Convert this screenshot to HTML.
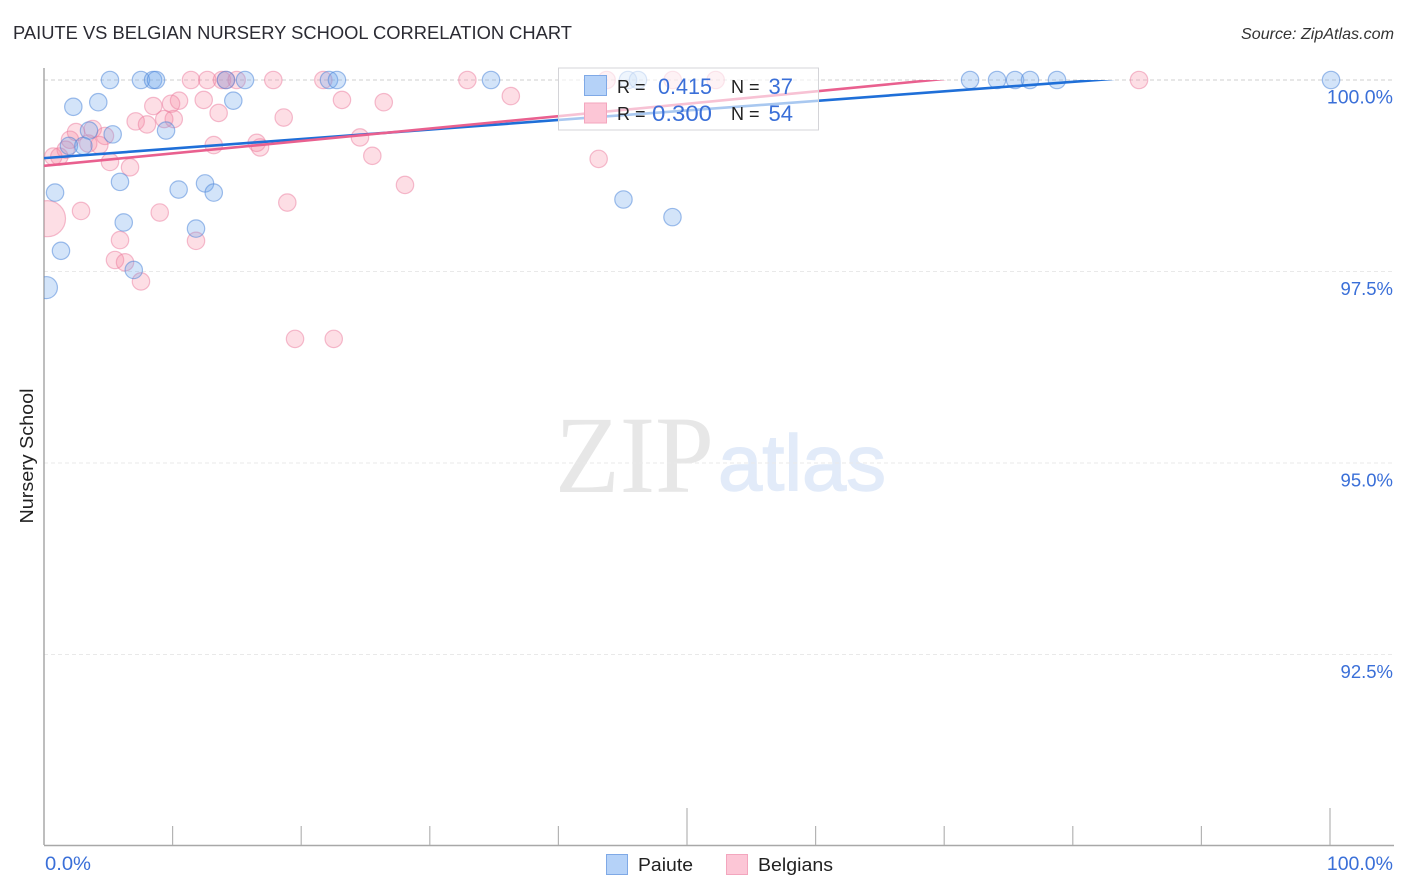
<!DOCTYPE html>
<html lang="en">
<head>
<meta charset="utf-8">
<title>Paiute vs Belgian Nursery School Correlation Chart</title>
<style>
html,body{margin:0;padding:0;background:#fff;width:1406px;height:892px;overflow:hidden}
svg{display:block;font-family:"Liberation Sans",sans-serif}
</style>
</head>
<body>
<svg id="chart" width="1406" height="892" viewBox="0 0 1406 892" xmlns="http://www.w3.org/2000/svg">
  <defs>
    <clipPath id="pts-clip"><rect x="44" y="60" width="1350" height="785"/></clipPath>
    <clipPath id="line-clip"><rect x="44" y="80" width="1350" height="765"/></clipPath>
  </defs>
  <rect x="0" y="0" width="1406" height="892" fill="#fff"/>
  <text x="13" y="39" font-size="18.5" fill="#2b2b33" textLength="559" lengthAdjust="spacingAndGlyphs">PAIUTE VS BELGIAN NURSERY SCHOOL CORRELATION CHART</text>
  <text x="1394" y="39" font-size="16" font-style="italic" fill="#333" text-anchor="end" textLength="153" lengthAdjust="spacingAndGlyphs">Source: ZipAtlas.com</text>

  <g>
    <text x="555" y="492" font-family="'Liberation Serif',serif" font-size="110" fill="#e7e7e7" textLength="159" lengthAdjust="spacingAndGlyphs">ZIP</text>
    <text x="718" y="490" font-size="79" fill="#e2ebf9" stroke="#e2ebf9" stroke-width="1.4" textLength="168" lengthAdjust="spacingAndGlyphs">atlas</text>
  </g>

  <g id="grid"></g>
  <g id="axes"></g>
  <g id="points" clip-path="url(#pts-clip)"></g>
  <g id="lines" clip-path="url(#line-clip)"></g>

  <g>
    <rect x="558.5" y="68" width="260" height="62" fill="#fff" fill-opacity="0.62" stroke="#d4d4d8" stroke-width="1"/>
    <rect x="584.5" y="75.5" width="22" height="20" fill="#b5d2f8" stroke="#7fa9e6" stroke-width="1"/>
    <rect x="584.5" y="103" width="22" height="20" fill="#fcc6d6" stroke="#f3a6be" stroke-width="1"/>
    <text x="617" y="93" font-size="18" fill="#222">R =</text>
    <text x="712" y="94" font-size="22" fill="#3a6fd8" text-anchor="end" textLength="54" lengthAdjust="spacingAndGlyphs">0.415</text>
    <text x="731" y="93" font-size="18" fill="#222">N =</text>
    <text x="793" y="94" font-size="22" fill="#3a6fd8" text-anchor="end">37</text>
    <text x="617" y="120" font-size="18" fill="#222">R =</text>
    <text x="712" y="121" font-size="22" fill="#3a6fd8" text-anchor="end" textLength="60" lengthAdjust="spacingAndGlyphs">0.300</text>
    <text x="731" y="120" font-size="18" fill="#222">N =</text>
    <text x="793" y="121" font-size="22" fill="#3a6fd8" text-anchor="end">54</text>
  </g>

  <text transform="translate(33,456) rotate(-90)" font-size="18" fill="#222" text-anchor="middle" textLength="135" lengthAdjust="spacingAndGlyphs">Nursery School</text>

  <g>
    <rect x="606.5" y="854.5" width="21" height="20" fill="#b5d2f8" stroke="#7fa9e6" stroke-width="1"/>
    <text x="638" y="871" font-size="18.5" fill="#222" textLength="55" lengthAdjust="spacingAndGlyphs">Paiute</text>
    <rect x="726.5" y="854.5" width="21" height="20" fill="#fcc6d6" stroke="#f3a6be" stroke-width="1"/>
    <text x="758" y="871" font-size="18.5" fill="#222" textLength="75" lengthAdjust="spacingAndGlyphs">Belgians</text>
  </g>
</svg>
<script>
const yTickValues = [100, 97.5, 95, 92.5];
const yTickLabels = ["100.0%", "97.5%", "95.0%", "92.5%"];
const xTickValues = [0, 10, 20, 30, 40, 50, 60, 70, 80, 90, 100];
const xMajorTicks = [50, 100];
const xEndLabels = ["0.0%", "100.0%"];

const paiuteX = [5.13, 7.54, 8.48, 8.71, 14.15, 15.63, 22.16, 22.78, 34.76, 45.41, 46.19, 72.01, 74.11, 75.51, 76.67, 78.77, 100.08,
  2.28, 4.22, 14.72, 5.34, 3.50, 9.49, 1.94, 3.06, 5.91, 0.86, 10.47, 12.52, 13.20, 6.20, 11.82, 1.32, 6.98, 0.19, 45.06, 48.87];
const paiuteY = [100, 100, 100, 100, 100, 100, 100, 100, 100, 100, 100, 100, 100, 100, 100, 100, 100,
  99.65, 99.71, 99.73, 99.29, 99.34, 99.34, 99.14, 99.14, 98.67, 98.53, 98.57, 98.65, 98.53, 98.14, 98.06, 97.77, 97.52, 97.29, 98.44, 98.21];
const paiuteWeight = [1, 1, 1, 1, 1, 1, 1, 1, 1, 1, 1, 1, 1, 1, 1, 1, 1,
  1, 1, 1, 1, 1, 1, 1, 1, 1, 1, 1, 1, 1, 1, 1, 1, 1, 1.6, 1, 1];

const belgiansX = [11.43, 12.70, 13.84, 14.15, 14.98, 17.83, 21.72, 32.92, 43.75, 48.89, 52.23, 85.15,
  23.17, 10.50, 9.88, 8.50, 12.42, 13.58, 18.64, 10.09, 9.35, 7.13, 8.01, 2.49, 3.79, 4.74, 2.02, 3.44, 4.30, 16.54, 16.80, 13.20, 1.69, 0.72, 1.19, 5.13, 6.69,
  18.92, 2.88, 9.00, 5.91, 11.82, 5.52, 6.30, 7.54, 19.52, 22.53, 0.27, 26.42, 36.30, 24.57, 25.53, 28.07, 43.13];
const belgiansY = [100, 100, 100, 100, 100, 100, 100, 100, 100, 100, 100, 100,
  99.74, 99.73, 99.69, 99.66, 99.74, 99.57, 99.51, 99.49, 99.49, 99.46, 99.42, 99.32, 99.36, 99.27, 99.22, 99.17, 99.15, 99.18, 99.12, 99.15, 99.09, 99.00, 99.00, 98.93, 98.86,
  98.40, 98.29, 98.27, 97.91, 97.90, 97.65, 97.62, 97.37, 96.62, 96.62, 98.19, 99.71, 99.79, 99.25, 99.01, 98.63, 98.97];
const belgiansWeight = [1, 1, 1, 1, 1, 1, 1, 1, 1, 1, 1, 1,
  1, 1, 1, 1, 1, 1, 1, 1, 1, 1, 1, 1, 1, 1, 1, 1, 1, 1, 1, 1, 1, 1, 1, 1, 1,
  1, 1, 1, 1, 1, 1, 1, 1, 1, 1, 4.3, 1, 1, 1, 1, 1, 1];

const paiuteTrendX = [0, 100];
const paiuteTrendY = [98.98, 100.225];
const belgiansTrendX = [0, 100];
const belgiansTrendY = [98.88, 100.5];

const NS = "http://www.w3.org/2000/svg";
function xScale(v) { return 44 + v * 12.86; }
function yScale(v) { return 80 + (100 - v) * 76.6; }
function mk(tag, parent, attrs) {
  const el = document.createElementNS(NS, tag);
  for (const k in attrs) el.setAttribute(k, attrs[k]);
  parent.appendChild(el);
  return el;
}

const grid = document.getElementById("grid");
const axes = document.getElementById("axes");
const points = document.getElementById("points");
const lines = document.getElementById("lines");

yTickValues.forEach(function (v, i) {
  const line = mk("line", grid, { x1: 44, x2: 1394, y1: yScale(v), y2: yScale(v), stroke: i === 0 ? "#cfcfcf" : "#e9e9e9", "stroke-width": 1, "stroke-dasharray": "4 3" });
  
  
  const label = mk("text", axes, { x: 1393, y: yScale(v) + 23.5, "font-size": i === 0 ? 19.5 : 18.5, fill: "#3a6fd8", "text-anchor": "end" });
  label.textContent = yTickLabels[i];
  
  
});

const yAxis = mk("line", axes, { x1: 44, x2: 44, y1: 68, y2: 845, stroke: "#a8a8a8", "stroke-width": 1.5 });


const xAxis = mk("line", axes, { x1: 44, x2: 1394, y1: 845.5, y2: 845.5, stroke: "#a8a8a8", "stroke-width": 1.5 });



xTickValues.forEach(function (v) {
  if (v === 0) return;
  const top = xMajorTicks.indexOf(v) >= 0 ? 808 : 826;
  const tick = mk("line", axes, { x1: xScale(v), x2: xScale(v), y1: top, y2: 845, stroke: "#b4b4b4", "stroke-width": 1.2 });
  
  
});

const xLabelLeft = mk("text", axes, { x: 45, y: 870, "font-size": 19.5, fill: "#3a6fd8", textLength: 46, lengthAdjust: "spacingAndGlyphs" });
xLabelLeft.textContent = xEndLabels[0];


const xLabelRight = mk("text", axes, { x: 1393, y: 870, "font-size": 19.5, fill: "#3a6fd8", "text-anchor": "end" });
xLabelRight.textContent = xEndLabels[1];



belgiansX.forEach(function (v, i) {
  const c = mk("circle", points, { cx: xScale(v), cy: yScale(belgiansY[i]), r: 8.7 * Math.sqrt(belgiansWeight[i]), fill: "#f6869f", "fill-opacity": 0.27, stroke: "#ec7ea0", "stroke-opacity": 0.5, "stroke-width": 1.2 });
  
  
});
paiuteX.forEach(function (v, i) {
  const c = mk("circle", points, { cx: xScale(v), cy: yScale(paiuteY[i]), r: 8.7 * Math.sqrt(paiuteWeight[i]), fill: "#6ea4ec", "fill-opacity": 0.3, stroke: "#4a84d8", "stroke-opacity": 0.52, "stroke-width": 1.2 });
  
  
});

const blueLine = mk("line", lines, { x1: xScale(paiuteTrendX[0]), y1: yScale(paiuteTrendY[0]), x2: xScale(paiuteTrendX[1]), y2: yScale(paiuteTrendY[1]), stroke: "#1f6fd8", "stroke-width": 2.6 });


const pinkLine = mk("line", lines, { x1: xScale(belgiansTrendX[0]), y1: yScale(belgiansTrendY[0]), x2: xScale(belgiansTrendX[1]), y2: yScale(belgiansTrendY[1]), stroke: "#e9608f", "stroke-width": 2.6 });


</script>
</body>
</html>
